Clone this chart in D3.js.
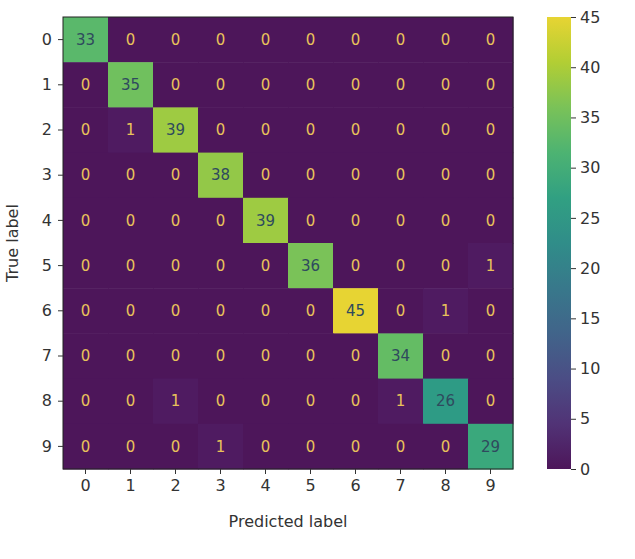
<!DOCTYPE html>
<html><head><meta charset="utf-8">
<script src="https://cdn.jsdelivr.net/npm/d3@7"></script>
<style>body{margin:0;background:#fff}text{font-family:"DejaVu Sans",sans-serif}</style>
</head><body>
<svg id="chart" width="635" height="559"></svg>
<script>
var labels = ['0','1','2','3','4','5','6','7','8','9'];
var matrix = [
  [33,0,0,0,0,0,0,0,0,0],
  [0,35,0,0,0,0,0,0,0,0],
  [0,1,39,0,0,0,0,0,0,0],
  [0,0,0,38,0,0,0,0,0,0],
  [0,0,0,0,39,0,0,0,0,0],
  [0,0,0,0,0,36,0,0,0,1],
  [0,0,0,0,0,0,45,0,1,0],
  [0,0,0,0,0,0,0,34,0,0],
  [0,0,1,0,0,0,0,1,26,0],
  [0,0,0,1,0,0,0,0,0,29]
];
var cbTicks = [0,5,10,15,20,25,30,35,40,45];

var margin = {left: 63, top: 17};
var width = 513 - margin.left, height = 469 - margin.top;
var svg = d3.select('#chart');
var g = svg.append('g').attr('transform', 'translate(' + margin.left + ',' + margin.top + ')');

var x = d3.scaleBand().domain(labels).range([0, width]);
var y = d3.scaleBand().domain(labels).range([0, height]);
// viridis, a bit washed out like the jpeg
var muted = t => d3.interpolateRgb(d3.interpolateViridis(t), '#7a7a7a')(0.17);
var color = d3.scaleSequential(muted).domain([0, 45]);

var cells = [];
matrix.forEach(function(row, i){
  row.forEach(function(v, j){ cells.push({t: labels[i], p: labels[j], v: v}); });
});

g.selectAll('.cell').data(cells).enter().append('rect')
  .attr('x', d => x(d.p)).attr('y', d => y(d.t))
  .attr('width', x.bandwidth() + 0.5).attr('height', y.bandwidth() + 0.5)
  .attr('fill', d => color(d.v));

g.selectAll('.val').data(cells).enter().append('text')
  .attr('x', d => x(d.p) + x.bandwidth() / 2)
  .attr('y', d => y(d.t) + y.bandwidth() / 2)
  .attr('text-anchor', 'middle').attr('dy', '.35em')
  .style('font-size', '15px')
  .attr('fill', d => d.v < 22.5 ? '#e9c25a' : '#2f4a5e')
  .text(d => d.v);

g.append('rect').attr('width', width).attr('height', height)
  .attr('fill', 'none').attr('stroke', '#222').attr('stroke-width', 1);

var xAxis = g.append('g').attr('transform', 'translate(0,' + height + ')')
  .call(d3.axisBottom(x).tickSize(5).tickPadding(6));
var yAxis = g.append('g').call(d3.axisLeft(y).tickSize(5).tickPadding(6));
[xAxis, yAxis].forEach(function(a){
  a.select('.domain').remove();
  a.selectAll('text').style('font-size', '16px').attr('fill', '#333');
  a.selectAll('line').attr('stroke', '#333');
});

svg.append('text').attr('x', margin.left + width / 2).attr('y', 527)
  .attr('text-anchor', 'middle').style('font-size', '16px').attr('fill', '#333')
  .text('Predicted label');
svg.append('text').attr('transform', 'translate(18,' + (margin.top + height / 2) + ') rotate(-90)')
  .attr('text-anchor', 'middle').style('font-size', '16px').attr('fill', '#333')
  .text('True label');

// colorbar
var cbX = 547, cbW = 24;
var cbScale = d3.scaleLinear().domain([0, 45]).range([height, 0]);
var defs = svg.append('defs');
var grad = defs.append('linearGradient').attr('id', 'cb').attr('x1', 0).attr('y1', 1).attr('x2', 0).attr('y2', 0);
d3.range(0, 1.01, 0.1).forEach(function(t){
  grad.append('stop').attr('offset', t).attr('stop-color', muted(t));
});
var cb = svg.append('g').attr('transform', 'translate(' + cbX + ',' + margin.top + ')');
cb.append('rect').attr('width', cbW).attr('height', height).attr('fill', 'url(#cb)');
var cbAxis = cb.append('g').attr('transform', 'translate(' + cbW + ',0)')
  .call(d3.axisRight(cbScale).tickValues(cbTicks).tickSize(5).tickPadding(4));
cbAxis.select('.domain').remove();
cbAxis.selectAll('text').style('font-size', '16px').attr('fill', '#333');
cbAxis.selectAll('line').attr('stroke', '#333');
</script>
</body></html>
